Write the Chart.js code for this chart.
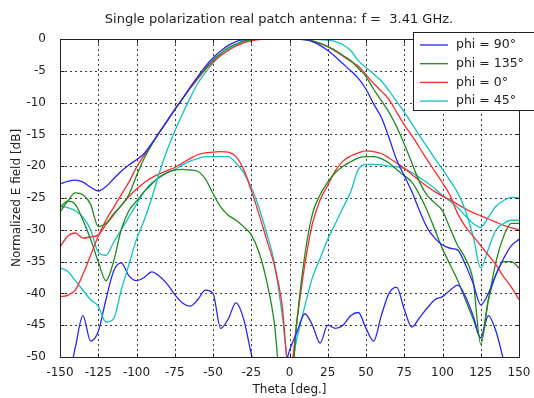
<!DOCTYPE html>
<html><head><meta charset="utf-8">
<script src="https://cdn.jsdelivr.net/npm/chart.js@4"></script>
<style>html,body{margin:0;padding:0;background:#fff}canvas{display:block}</style>
</head><body>
<div style="width:534px;height:398px"><canvas id="c" width="534" height="398"></canvas></div>
<script>
const theta = [-150,-145,-140,-135,-130,-125,-120,-115,-110,-105,-100,-95,-90,-85,-80,-75,-70,-65,-60,-55,-50,-45,-40,-35,-30,-25,-20,-15,-10,-5,0,5,10,15,20,25,30,35,40,45,50,55,60,65,70,75,80,85,90,95,100,105,110,115,120,125,130,135,140,145,150];
const xTickValues = [-150,-125,-100,-75,-50,-25,0,25,50,75,100,125,150];
const yTickValues = [0,-5,-10,-15,-20,-25,-30,-35,-40,-45,-50];
const seriesLabels = ['phi = 90°','phi = 135°','phi = 0°','phi = 45°'];

// co-polar patterns
const co90 = [-22.8,-22.4,-22.2,-22.5,-23.3,-23.9,-23.2,-22.0,-20.8,-19.8,-19.0,
 -18.0,-16.4,-14.7,-12.9,-11.1,-9.4,-7.6,-5.9,-4.3,-3.0,
 -1.9,-1.0,-0.4,-0.1,0,0,0,0,0,0,
 0,-0.1,-0.4,-1.0,-1.8,-2.8,-3.9,-5.0,-6.2,-7.9,
 -10.2,-12.3,-15.5,-19.0,-21.5,-24.0,-27.0,-29.7,-31.3,-32.4,
 -32.9,-33.2,-35.5,-38.4,-41.8,-40.0,-37.0,-34.5,-32.5,-31.5];
const co135 = [-27.2,-25.5,-24.2,-24.5,-26,-29.5,-29,-27.5,-26.2,-24.5,-21.5,
 -18.8,-16.6,-14.7,-12.9,-11.1,-9.4,-7.7,-6.1,-4.6,-3.3,
 -2.3,-1.4,-0.8,-0.3,-0.1,0,0,0,0,0,
 0,-0.1,-0.3,-0.7,-1.2,-1.8,-2.6,-3.4,-4.6,-5.9,
 -7.9,-9.7,-11.5,-13.8,-16.5,-19.5,-22.5,-24.6,-25.8,-27,
 -29.8,-32.5,-34.5,-38,-48,-41,-37,-35,-35,-36];
const co0 = [-40.5,-40.3,-39.5,-37,-34,-31,-28.5,-26.5,-24.5,-22.5,-20.2,
 -18.3,-16.5,-14.6,-12.9,-11.1,-9.4,-7.8,-6.3,-4.8,-3.6,
 -2.6,-1.8,-1.1,-0.6,-0.3,-0.1,0,0,0,0,
 0,-0.1,-0.3,-0.7,-1.2,-1.9,-2.7,-3.5,-4.3,-5.6,
 -7.0,-8.2,-9.5,-11.5,-13.5,-15.2,-17.1,-19.0,-20.8,-22.6,
 -24.6,-27.5,-29.5,-31,-32.5,-34,-35.5,-37.4,-39,-41];
const co45 = [-36,-36.5,-38,-39.5,-41,-42,-44.5,-44,-39.5,-35.5,-31.5,
 -28.5,-25,-21,-17.5,-14.5,-11.8,-9.3,-7,-5.3,-3.8,
 -2.6,-1.7,-1.0,-0.5,-0.2,0,0,0,0,0,
 0,0,0,-0.1,-0.2,-0.4,-0.9,-1.8,-3.4,-4.5,
 -5.5,-6.6,-8.1,-9.8,-11.5,-13.3,-15.2,-17.0,-18.8,-20.5,
 -22.3,-24.2,-27,-31,-36,-33,-30,-29,-28.5,-28.5];
// cross-polar patterns
const x90 = [-56,-54,-48.5,-43.5,-47.5,-46,-41,-36.5,-35.2,-37.2,-38,
 -37.5,-36.6,-37.3,-38.5,-40.2,-41.5,-42,-41,-39.5,-40,
 -45.5,-44,-41.5,-44,-49.5,-54,-56,-55,-53,-49,
 -46,-43.2,-45,-47.8,-45,-45.5,-45,-43.5,-43,-45.5,
 -47.5,-43.5,-40,-39,-42.5,-45.3,-43.8,-42.3,-41,-40.5,
 -39.5,-38.7,-40.5,-43.5,-47,-43.5,-46,-50.5,-54,-55];
const x135 = [-26.5,-25.5,-26,-28.5,-31.5,-35,-38,-35,-30,-27,-25.5,
 -24,-22.8,-21.7,-21,-20.6,-20.5,-20.6,-20.8,-22,-24.3,
 -26.4,-27.7,-28.5,-29.5,-30.8,-33.5,-38,-44.5,-56,-57,
 -44,-34,-27.5,-24.5,-22.5,-21,-20,-19.3,-18.7,-18.5,
 -18.5,-18.8,-19.5,-20.5,-21.5,-22.5,-24.5,-27,-30,-33,
 -35.5,-38,-41,-44,-47,-41,-35,-31,-29,-29];
const x0 = [-32.7,-31,-30.5,-31.3,-31.1,-30.8,-29.2,-27.7,-26.2,-24.8,-23.6,
 -22.6,-21.8,-21.2,-20.7,-20.2,-19.5,-18.8,-18.2,-17.9,-17.8,
 -17.7,-17.8,-18.5,-20.5,-23.8,-27.5,-31.5,-35.5,-41.5,-53,
 -44,-35.5,-29,-25.3,-23,-20.7,-19.2,-18.4,-17.9,-17.6,
 -17.7,-18,-18.7,-19.5,-20.3,-21.3,-22.3,-23.2,-24,-24.7,
 -25.3,-26,-26.7,-27.3,-27.8,-28.3,-28.8,-29.3,-29.7,-30];
const x45 = [-26.3,-26.5,-27,-28,-30,-33.5,-34,-32,-30,-28,-26,
 -24,-22.6,-21.8,-21,-20.5,-19.8,-19.2,-18.8,-18.5,-18.5,
 -18.5,-18.5,-19.5,-21,-23.3,-26.5,-30.5,-35,-43,-52,
 -46.9,-42,-37.5,-34.5,-31.5,-29,-26.5,-24,-20.5,-19.7,
 -19.7,-19.8,-20,-20.1,-20.4,-21,-21.8,-22.6,-23.5,-24.6,
 -25.5,-26.5,-27.8,-29,-29.6,-28,-26.3,-25.4,-24.9,-25];

const colors = ['#2626ff','#1e8a1e','#ff2a2a','#10c4c4'];
const pts = arr => theta.map((t,i)=>({x:t,y:arr[i]}));
function ds(label, arr, color, inLegend){
  return {label, data: pts(arr), borderColor: color, backgroundColor: color, borderWidth: 1.3,
    pointRadius: 0, fill: false, cubicInterpolationMode: 'monotone', inLegend};
}
const datasets = [
  ds(seriesLabels[0], co90, colors[0], true),
  ds(seriesLabels[1], co135, colors[1], true),
  ds(seriesLabels[2], co0, colors[2], true),
  ds(seriesLabels[3], co45, colors[3], true),
  ds(seriesLabels[0], x90, colors[0], false),
  ds(seriesLabels[1], x135, colors[1], false),
  ds(seriesLabels[2], x0, colors[2], false),
  ds(seriesLabels[3], x45, colors[3], false)
];
const FONT = '"DejaVu Sans", sans-serif';
const deco = {
  id: 'deco',
  beforeDatasetsDraw(chart){
    const {ctx, chartArea:a, scales:{x,y}} = chart;
    ctx.save();
    ctx.strokeStyle = '#3a3a3a'; ctx.lineWidth = 1; ctx.setLineDash([2,3]);
    xTickValues.forEach(v=>{const p=Math.round(x.getPixelForValue(v))+0.5;ctx.beginPath();ctx.moveTo(p,a.top);ctx.lineTo(p,a.bottom);ctx.stroke();});
    yTickValues.forEach(v=>{const p=Math.round(y.getPixelForValue(v))+0.5;ctx.beginPath();ctx.moveTo(a.left,p);ctx.lineTo(a.right,p);ctx.stroke();});
    ctx.restore();
  },
  afterDatasetsDraw(chart){
    const {ctx, chartArea:a, scales:{x,y}} = chart;
    ctx.save();
    ctx.setLineDash([]); ctx.strokeStyle = '#222'; ctx.lineWidth = 1;
    const L=Math.round(a.left)+0.5, R=Math.round(a.right)+0.5, T=Math.round(a.top)+0.5, B=Math.round(a.bottom)+0.5;
    ctx.strokeRect(L,T,R-L,B-T);
    const tl = 4;
    ctx.beginPath();
    xTickValues.forEach(v=>{const p=Math.round(x.getPixelForValue(v))+0.5;ctx.moveTo(p,B);ctx.lineTo(p,B-tl);ctx.moveTo(p,T);ctx.lineTo(p,T+tl);});
    yTickValues.forEach(v=>{const p=Math.round(y.getPixelForValue(v))+0.5;ctx.moveTo(L,p);ctx.lineTo(L+tl,p);ctx.moveTo(R,p);ctx.lineTo(R-tl,p);});
    ctx.stroke();
    // title
    ctx.fillStyle = '#222';
    ctx.font = '13px ' + FONT;
    ctx.textAlign = 'center'; ctx.textBaseline = 'middle';
    ctx.fillText('Single polarization real patch antenna: f =  3.41 GHz.', 279, 20);
    // legend
    const lx = 413.5, ly = 32.5, lw = 130, lh = 78;
    ctx.fillStyle = '#fff'; ctx.fillRect(lx, ly, lw, lh);
    ctx.strokeStyle = '#222'; ctx.strokeRect(lx, ly, lw, lh);
    ctx.font = '12.5px ' + FONT; ctx.textAlign = 'left';
    const items = chart.data.datasets.filter(d=>d.inLegend);
    items.forEach((d,i)=>{
      const yy = 45 + i*18.7;
      ctx.strokeStyle = d.borderColor; ctx.lineWidth = 1.3;
      ctx.beginPath(); ctx.moveTo(420, yy); ctx.lineTo(448, yy); ctx.stroke();
      ctx.fillStyle = '#222'; ctx.fillText(d.label, 456, yy);
    });
    ctx.restore();
  }
};
new Chart(document.getElementById('c'), {
  type: 'line',
  data: { datasets },
  options: {
    responsive: false, animation: false, devicePixelRatio: 1,
    layout: { padding: { top: 39, right: 15, left: 0, bottom: 0 } },
    plugins: { legend: { display: false }, title: { display: false }, tooltip: { enabled: false } },
    scales: {
      x: { type: 'linear', min: -150, max: 150,
        afterFit: s => { s.height = 41; },
        afterBuildTicks: s => { s.ticks = xTickValues.map(v=>({value:v})); },
        grid: { display: false }, border: { display: false },
        ticks: { color: '#222', font: { family: FONT, size: 12 }, padding: 1, maxRotation: 0, autoSkip: false },
        title: { display: true, text: 'Theta [deg.]', color: '#222', font: { family: FONT, size: 12 }, padding: { top: 0, bottom: 1 } }
      },
      y: { type: 'linear', min: -50, max: 0,
        afterFit: s => { s.width = 60; },
        afterBuildTicks: s => { s.ticks = yTickValues.map(v=>({value:v})); },
        grid: { display: false }, border: { display: false },
        ticks: { color: '#222', font: { family: FONT, size: 12 }, padding: 6, autoSkip: false },
        title: { display: true, text: 'Normalized E field [dB]', color: '#222', font: { family: FONT, size: 12 }, padding: { top: 10, bottom: 0 } }
      }
    }
  },
  plugins: [deco]
});
</script>
</body></html>
